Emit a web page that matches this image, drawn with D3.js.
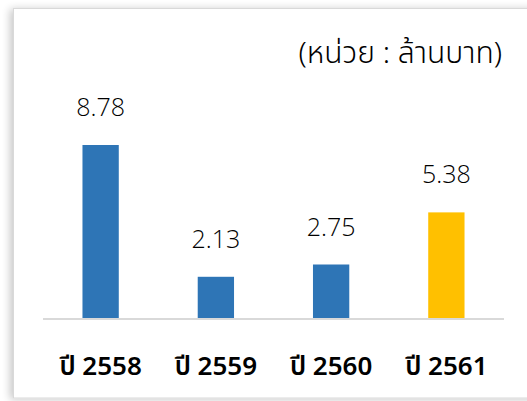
<!DOCTYPE html>
<html><head><meta charset="utf-8">
<script src="https://cdn.jsdelivr.net/npm/d3@7"></script>
<style>body{margin:0;background:#fff;} svg{display:block;}</style>
</head><body>
<script>
const categories = ["ปี 2558", "ปี 2559", "ปี 2560", "ปี 2561"];
const values = [8.78, 2.13, 2.75, 5.38];
const barColors = ["#2e75b6", "#2e75b6", "#2e75b6", "#ffc000"];
const unitLabel = "(หน่วย : ล้านบาท)";

const W = 527, H = 401;
const svg = d3.select("body").append("svg").attr("width", W).attr("height", H);
const defs = svg.append("defs");
const f = defs.append("filter").attr("id", "sh").attr("x", "-5%").attr("y", "-5%").attr("width", "110%").attr("height", "110%");
f.append("feGaussianBlur").attr("in", "SourceAlpha").attr("stdDeviation", 4).attr("result", "b");
f.append("feOffset").attr("in", "b").attr("dx", -3).attr("dy", 1).attr("result", "o");
f.append("feComponentTransfer").attr("in", "o").attr("result", "o2").append("feFuncA").attr("type", "linear").attr("slope", 0.22);
const m = f.append("feMerge"); m.append("feMergeNode").attr("in", "o2"); m.append("feMergeNode").attr("in", "SourceGraphic");

svg.append("rect").attr("x", 13.5).attr("y", 8.5).attr("width", 540).attr("height", 389.5)
  .attr("fill", "#fff").attr("stroke", "#d9d9d9").attr("stroke-width", 1).attr("filter", "url(#sh)");

const font = "'Noto Sans Thai','Leelawadee UI','Tahoma','Open Sans','Noto Sans','DejaVu Sans',sans-serif";
const numFont = "'Open Sans','Noto Sans',sans-serif";
const x = d3.scaleBand().domain(categories).range([43, 504]).paddingInner(0.685).paddingOuter(0.3425);
const y = d3.scaleLinear().domain([0, 8.78]).range([319, 145]);

svg.selectAll("rect.bar").data(values).join("rect").attr("class", "bar")
  .attr("x", (d, i) => x(categories[i])).attr("width", x.bandwidth())
  .attr("y", d => y(d)).attr("height", d => y(0) - y(d))
  .attr("fill", (d, i) => barColors[i]);

const axis = d3.axisBottom(x).tickSize(0).tickPadding(0);
const g = svg.append("g").attr("transform", "translate(0,319)").call(axis);
g.select(".domain").attr("stroke", "#d9d9d9").attr("stroke-width", 2).attr("d", "M43,0H504");
g.selectAll(".tick text").attr("dy", null).attr("y", 56).attr("font-family", font)
  .attr("font-size", 26).attr("font-weight", 600).attr("fill", "#000");

svg.selectAll("text.val").data(values).join("text").attr("class", "val")
  .attr("x", (d, i) => x(categories[i]) + x.bandwidth() / 2)
  .attr("y", d => y(d) - 29).attr("text-anchor", "middle")
  .attr("font-family", numFont).attr("font-size", 25).attr("font-weight", 300).attr("fill", "#000")
  .text(d => d.toFixed(2));

svg.append("text").attr("x", 502).attr("y", 63).attr("text-anchor", "end")
  .attr("font-family", font).attr("font-size", 30).attr("font-weight", 300).attr("fill", "#000").text(unitLabel);
</script>
</body></html>
